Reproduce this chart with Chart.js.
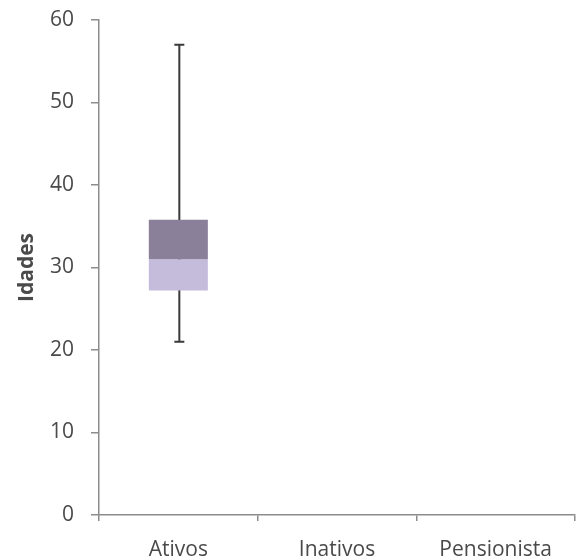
<!DOCTYPE html>
<html>
<head>
<meta charset="utf-8">
<script src="https://cdn.jsdelivr.net/npm/chart.js@4"></script>
<style>
  html, body { margin: 0; padding: 0; background: #fff; }
  #wrap { width: 577px; height: 559px; }
</style>
</head>
<body>
<div id="wrap"><canvas id="boxChart" width="577" height="559"></canvas></div>
<script>
var categories = ["Ativos", "Inativos", "Pensionista"];
var minValues = [21, null, null];
var q1Values = [27.2, null, null];
var medianValues = [31, null, null];
var q3Values = [35.8, null, null];
var maxValues = [57, null, null];
var yTicks = [0, 10, 20, 30, 40, 50, 60];

function range(lo, hi) {
    return lo.map(function (v, i) {
        return v == null || hi[i] == null ? null : [v, hi[i]];
    });
}

// whiskers drawn from the min/max arrays through the chart scales
var whiskers = {
    id: "whiskers",
    beforeDatasetsDraw: function (chart) {
        var x = chart.scales.x, y = chart.scales.y, c = chart.ctx;
        c.save();
        c.strokeStyle = "#3a3a3a";
        c.lineWidth = 2;
        categories.forEach(function (cat, i) {
            if (minValues[i] == null) return;
            var px = x.getPixelForValue(i) + 1;
            var top = y.getPixelForValue(maxValues[i]);
            var bot = y.getPixelForValue(minValues[i]);
            c.beginPath();
            c.moveTo(px, top);
            c.lineTo(px, bot);
            c.moveTo(px - 5, top);
            c.lineTo(px + 5, top);
            c.moveTo(px - 5, bot);
            c.lineTo(px + 5, bot);
            c.stroke();
        });
        c.restore();
    }
};

var labelFont = { family: "Open Sans", size: 21 };

var ctx = document.getElementById("boxChart").getContext("2d");
var myChart = new Chart(ctx, {
    type: "bar",
    data: {
        labels: categories,
        datasets: [
            {
                label: "Q3",
                data: range(medianValues, q3Values),
                backgroundColor: "#8b8099",
                grouped: false,
                categoryPercentage: 1,
                barPercentage: 0.372,
            },
            {
                label: "Q1",
                data: range(q1Values, medianValues),
                backgroundColor: "#c5bcdb",
                grouped: false,
                categoryPercentage: 1,
                barPercentage: 0.372,
            },
        ],
    },
    plugins: [whiskers],
    options: {
        responsive: false,
        animation: false,
        layout: { padding: { top: 20, right: 2, left: 0, bottom: 0 } },
        plugins: {
            legend: { display: false },
            tooltip: { enabled: false },
        },
        scales: {
            x: {
                offset: true,
                grid: {
                    offset: true,
                    drawOnChartArea: false,
                    color: "#8c8c8c",
                    tickLength: 6,
                    lineWidth: 1.5,
                },
                border: { color: "#8c8c8c", width: 1.5 },
                ticks: {
                    color: "#4a4a4a",
                    padding: 16,
                    font: labelFont,
                },
                afterFit: function (s) { s.height = 44; },
            },
            y: {
                min: 0,
                max: 60,
                afterBuildTicks: function (s) {
                    s.ticks = yTicks.map(function (v) { return { value: v }; });
                },
                grid: {
                    drawOnChartArea: false,
                    color: "#8c8c8c",
                    tickLength: 8,
                    lineWidth: 1.5,
                },
                border: { color: "#8c8c8c", width: 1.5 },
                ticks: {
                    color: "#4a4a4a",
                    padding: 17,
                    font: labelFont,
                },
                title: {
                    display: true,
                    text: "Idades",
                    color: "#4a4a4a",
                    font: { family: "Open Sans", size: 21, weight: "bold" },
                    padding: { top: 14, bottom: 0 },
                },
                afterFit: function (s) {
                    s.width = 99;
                    s.paddingTop = 0;
                    s.paddingBottom = 0;
                },
            },
        },
    },
});
</script>
</body>
</html>
